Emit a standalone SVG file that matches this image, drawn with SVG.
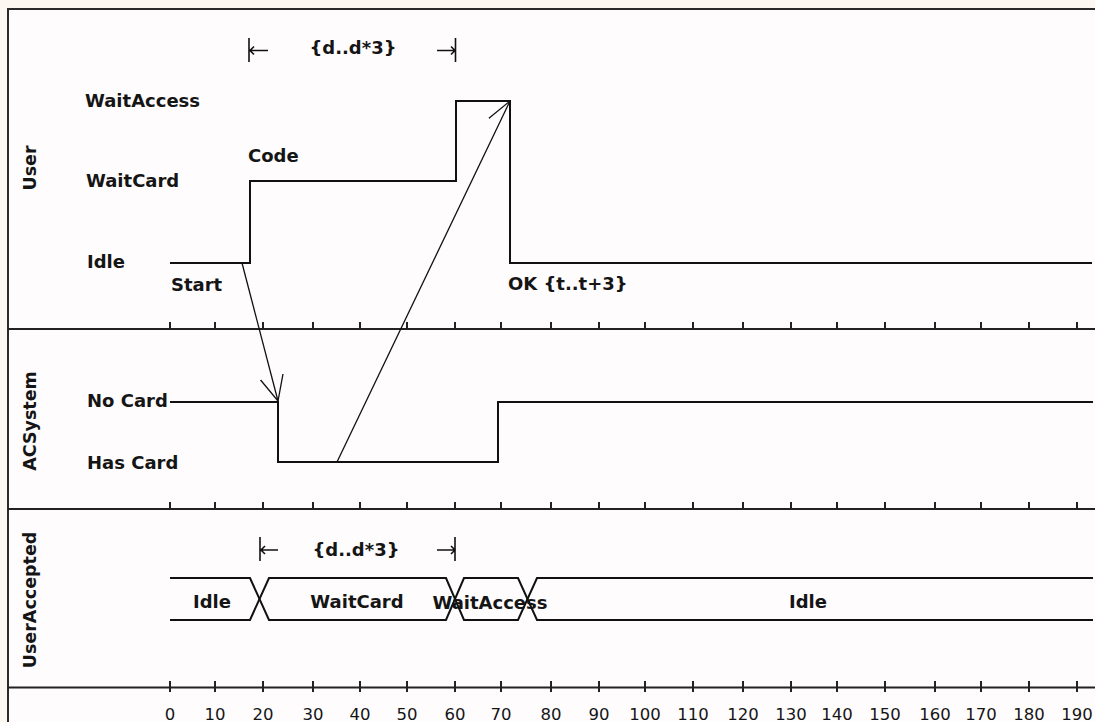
<svg xmlns="http://www.w3.org/2000/svg" width="1095" height="722" viewBox="0 0 1095 722">
<style>
  .t{font-family:"DejaVu Sans",Verdana,sans-serif;font-weight:bold;font-size:18px;fill:#151515}
  .n{font-family:"DejaVu Sans",Verdana,sans-serif;font-size:16.5px;fill:#151515;text-anchor:middle}
  .lane{font-family:"DejaVu Sans",Verdana,sans-serif;font-weight:bold;font-size:17.5px;fill:#151515;text-anchor:middle}
  .sig{fill:none;stroke:#111;stroke-width:2}
  .div{fill:none;stroke:#222;stroke-width:2}
  .tk{fill:none;stroke:#222;stroke-width:2}
  .msg{fill:none;stroke:#111;stroke-width:1.3;marker-end:url(#open)}
  .c{fill:none;stroke:#111;stroke-width:1.6}
</style>
<defs>
  <marker id="open" markerUnits="userSpaceOnUse" viewBox="0 0 26 26" refX="25" refY="13" markerWidth="26" markerHeight="26" orient="auto">
    <path d="M0,1.3 L25,13 L0,24.7" fill="none" stroke="#111" stroke-width="1.3"/>
  </marker>
</defs>
<rect x="0" y="0" width="1095" height="722" fill="#fcf8f1"/>
<rect id="frame" x="8" y="9" width="1100" height="730" fill="#fffcfe" stroke="#2a2a2a" stroke-width="2"/>

<g id="dividers">
  <line class="div" x1="8" y1="329" x2="1095" y2="329"/>
  <line class="div" x1="8" y1="509" x2="1095" y2="509"/>
  <line class="div" x1="8" y1="687.5" x2="1095" y2="687.5"/>
  <path class="tk" d="M170,322V329M215,322V329M263,322V329M313,322V329M360,322V329M407,322V329M455,322V329M501,322V329M551,322V329M599,322V329M645,322V329M693,322V329M743,322V329M791,322V329M837,322V329M885,322V329M935,322V329M981,322V329M1029,322V329M1077,322V329"/>
  <path class="tk" d="M170,502V509M215,502V509M263,502V509M313,502V509M360,502V509M407,502V509M455,502V509M501,502V509M551,502V509M599,502V509M645,502V509M693,502V509M743,502V509M791,502V509M837,502V509M885,502V509M935,502V509M981,502V509M1029,502V509M1077,502V509"/>
</g>

<g id="axis">
  <path class="tk" d="M170,681V692M215,681V692M263,681V692M313,681V692M360,681V692M407,681V692M455,681V692M501,681V692M551,681V692M599,681V692M645,681V692M693,681V692M743,681V692M791,681V692M837,681V692M885,681V692M935,681V692M981,681V692M1029,681V692M1077,681V692"/>
  <text class="n" x="170" y="720">0</text>
  <text class="n" x="215" y="720">10</text>
  <text class="n" x="263" y="720">20</text>
  <text class="n" x="313" y="720">30</text>
  <text class="n" x="360" y="720">40</text>
  <text class="n" x="407" y="720">50</text>
  <text class="n" x="455" y="720">60</text>
  <text class="n" x="501" y="720">70</text>
  <text class="n" x="551" y="720">80</text>
  <text class="n" x="599" y="720">90</text>
  <text class="n" x="645" y="720">100</text>
  <text class="n" x="693" y="720">110</text>
  <text class="n" x="743" y="720">120</text>
  <text class="n" x="791" y="720">130</text>
  <text class="n" x="837" y="720">140</text>
  <text class="n" x="885" y="720">150</text>
  <text class="n" x="935" y="720">160</text>
  <text class="n" x="981" y="720">170</text>
  <text class="n" x="1029" y="720">180</text>
  <text class="n" x="1077" y="720">190</text>
</g>

<g id="lane-user">
  <text class="lane" transform="translate(36,168) rotate(-90)">User</text>
  <text class="t" x="85" y="107">WaitAccess</text>
  <text class="t" x="86" y="187">WaitCard</text>
  <text class="t" x="87" y="268">Idle</text>
  <text class="t" x="248" y="162">Code</text>
  <text class="t" x="171" y="291">Start</text>
  <text class="t" x="508" y="290">OK {t..t+3}</text>
  <path class="sig" d="M170,263H250V181H456V101H510V263H1092"/>
</g>

<g id="constraint-user">
  <path class="c" d="M249,38V62M249,50.5H268M254,46.5L250,50.5L254,54.5"/>
  <text class="t" x="353" y="54" text-anchor="middle">{d..d*3}</text>
  <path class="c" d="M455.5,38V62M437,50.5H455M451,46.5L455,50.5L451,54.5"/>
</g>

<g id="lane-acsystem">
  <text class="lane" transform="translate(36,421) rotate(-90)">ACSystem</text>
  <text class="t" x="87" y="407">No Card</text>
  <text class="t" x="87" y="469">Has Card</text>
  <path class="sig" d="M170,402H278V462H498V402H1093"/>
</g>

<g id="lane-useraccepted">
  <text class="lane" transform="translate(36,600) rotate(-90)">UserAccepted</text>
  <path class="sig" d="M170,578H250L269,620H446L464,578H518L537,620H1093"/>
  <path class="sig" d="M170,620H250L269,578H446L464,620H518L537,578H1093"/>
  <text class="t" x="212" y="608" text-anchor="middle">Idle</text>
  <text class="t" x="357" y="608" text-anchor="middle">WaitCard</text>
  <text class="t" x="490" y="609" text-anchor="middle">WaitAccess</text>
  <text class="t" x="808" y="608" text-anchor="middle">Idle</text>
</g>

<g id="constraint-useraccepted">
  <path class="c" d="M260,537V561M260,550H278M265,546L261,550L265,554"/>
  <text class="t" x="356" y="556" text-anchor="middle">{d..d*3}</text>
  <path class="c" d="M455,537V561M437,550H455M451,546L455,550L451,554"/>
</g>

<g id="connectors">
  <path class="msg" d="M242,263L278,401"/>
  <path class="msg" d="M337,462L510,101"/>
</g>
</svg>
